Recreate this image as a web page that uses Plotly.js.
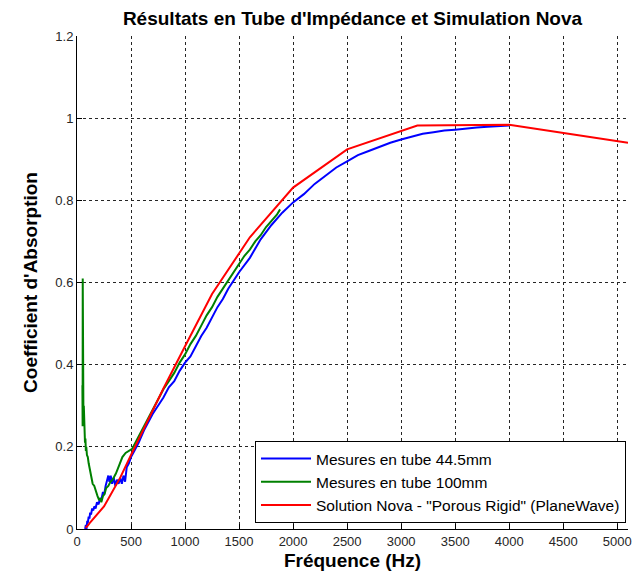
<!DOCTYPE html>
<html>
<head>
<meta charset="utf-8">
<script src="https://cdn.plot.ly/plotly-3.0.1.min.js"></script>
<style>html,body{margin:0;padding:0;background:#fff;}#chart{width:634px;height:579px;}</style>
</head>
<body>
<div id="chart"></div>
<script>
// Mesures en tube 44.5mm
const freqTube44 = [75,82,88,95,100,108,115,122,130,140,150,160,172,185,200,212,225,240,252,265,278,290,300,312,325,340,355,370,385,400,415,430,445,460,480,500,530,570,620,660,700,750,800,850,900,950,1000,1050,1100,1150,1200,1250,1300,1350,1400,1450,1500,1600,1700,1800,1900,2000,2100,2200,2300,2400,2500,2600,2700,2800,2900,3000,3100,3200,3300,3400,3500,3600,3700,3800,3900,4000];
const alphaTube44 = [0.0,0.01,0.0,0.02,0.015,0.03,0.025,0.04,0.035,0.05,0.045,0.055,0.05,0.065,0.06,0.075,0.07,0.09,0.085,0.105,0.12,0.13,0.115,0.13,0.11,0.125,0.105,0.12,0.11,0.125,0.11,0.13,0.115,0.15,0.16,0.175,0.19,0.21,0.24,0.26,0.28,0.30,0.32,0.345,0.36,0.385,0.405,0.42,0.445,0.47,0.49,0.515,0.54,0.56,0.585,0.605,0.625,0.66,0.705,0.74,0.77,0.795,0.815,0.84,0.86,0.88,0.895,0.91,0.92,0.93,0.94,0.948,0.955,0.962,0.966,0.970,0.972,0.975,0.977,0.979,0.980,0.982];

// Mesures en tube 100mm
const freqTube100 = [50,52,53,54,56,58,60,63,66,70,74,78,82,86,92,100,108,115,125,135,145,160,175,190,205,215,225,240,255,270,290,310,330,360,390,420,450,480,510,550,600,650,700,750,800,850,900,950,1000,1050,1100,1150,1200,1250,1300,1350,1400,1450,1500,1550,1600,1650,1700,1750,1800,1850,1880];
const alphaTube100 = [0.35,0.25,0.61,0.30,0.27,0.33,0.25,0.30,0.24,0.26,0.21,0.22,0.19,0.20,0.18,0.175,0.16,0.15,0.13,0.125,0.11,0.105,0.09,0.08,0.07,0.075,0.065,0.08,0.085,0.10,0.105,0.115,0.12,0.135,0.155,0.175,0.185,0.19,0.195,0.215,0.24,0.265,0.29,0.315,0.34,0.36,0.38,0.405,0.425,0.45,0.47,0.495,0.52,0.54,0.565,0.585,0.605,0.625,0.645,0.665,0.68,0.70,0.715,0.735,0.75,0.765,0.778];

// Solution Nova - "Porous Rigid" (PlaneWave)
const freqNova = [80,100,125,160,200,250,315,400,500,630,800,1000,1250,1600,2000,2500,3150,4000,5000,5100];
const alphaNova = [0.003,0.008,0.017,0.027,0.039,0.055,0.085,0.125,0.180,0.250,0.342,0.445,0.572,0.710,0.831,0.924,0.982,0.984,0.944,0.940];

const seriesNames = ['Mesures en tube 44.5mm','Mesures en tube 100mm','Solution Nova - "Porous Rigid" (PlaneWave)'];
const xTicks = [0,500,1000,1500,2000,2500,3000,3500,4000,4500,5000];
const yTicks = [0,0.2,0.4,0.6,0.8,1,1.2];

const FONT = 'Arial, "Liberation Sans", sans-serif';

const traces = [
  {x: freqTube44, y: alphaTube44, name: seriesNames[0], mode: 'lines', line: {color: '#0000ff', width: 2}},
  {x: freqTube100, y: alphaTube100, name: seriesNames[1], mode: 'lines', line: {color: '#008000', width: 2}},
  {x: freqNova, y: alphaNova, name: seriesNames[2], mode: 'lines', line: {color: '#ff0000', width: 2}}
];

const axisCommon = {
  showgrid: true, gridcolor: '#262626', griddash: 'dot', gridwidth: 1,
  showline: true, linecolor: '#000', linewidth: 1, mirror: false,
  ticks: 'inside', ticklen: 5, tickcolor: '#000', zeroline: false,
  tickfont: {family: FONT, size: 13, color: '#262626'}
};

const layout = {
  width: 634, height: 579,
  margin: {l: 77, r: 6, t: 36, b: 50},
  paper_bgcolor: '#fff', plot_bgcolor: '#fff',
  title: {text: 'Résultats en Tube d\'Impédance et Simulation Nova', font: {family: FONT, size: 19, color: '#000', weight: 'bold'}, xref: 'paper', x: 0.5, xanchor: 'center', yref: 'container', y: 1 - 18/579, yanchor: 'middle'},
  xaxis: Object.assign({}, axisCommon, {range: [0, 5100], tickvals: xTicks, ticktext: xTicks.map(String),
    title: {text: 'Fréquence (Hz)', font: {family: FONT, size: 19, color: '#000', weight: 'bold'}, standoff: 6}}),
  yaxis: Object.assign({}, axisCommon, {range: [0, 1.2], tickvals: yTicks, ticktext: yTicks.map(String),
    title: {text: 'Coefficient d\'Absorption', font: {family: FONT, size: 19, color: '#000', weight: 'bold'}, standoff: 12}}),
  showlegend: true,
  legend: {x: (626-77)/551, xanchor: 'right', y: (529-523)/493, yanchor: 'bottom',
    bgcolor: '#fff', bordercolor: '#000', borderwidth: 1,
    font: {family: FONT, size: 15.5, color: '#000'}, tracegroupgap: 0, itemwidth: 50}
};

Plotly.newPlot('chart', traces, layout, {displayModeBar: false, staticPlot: true});
</script>
</body>
</html>
